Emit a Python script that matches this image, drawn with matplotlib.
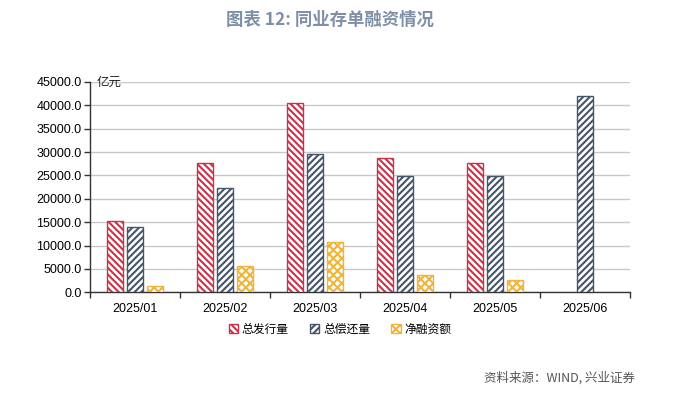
import matplotlib
matplotlib.use("Agg")
import matplotlib.pyplot as plt
import numpy as np

plt.rcParams['font.family'] = ['Noto Sans CJK SC', 'DejaVu Sans']
plt.rcParams['hatch.linewidth'] = 1.5

categories = ["2025/01", "2025/02", "2025/03", "2025/04", "2025/05", "2025/06"]
issuance = [15200, 27700, 40550, 28650, 27700, np.nan]
repayment = [13900, 22250, 29600, 24880, 24950, 42000]
net_financing = [1280, 5630, 10850, 3700, 2630, np.nan]
series_names = ["总发行量", "总偿还量", "净融资额"]
yticks = [0, 5000, 10000, 15000, 20000, 25000, 30000, 35000, 40000, 45000]

colors = ["#C8334A", "#44546A", "#F0B43C"]
hatches = ["\\" * 5, "/" * 5, "xxxx"]

fig = plt.figure(figsize=(6.81, 3.94), dpi=100)
ax = fig.add_axes([90/681, 1-292.3/394, 540/681, (292.3-82)/394])

x = np.arange(len(categories))
w = 16/90
step = 20/90
for i, (vals, c, h, name) in enumerate(zip([issuance, repayment, net_financing], colors, hatches, series_names)):
    ax.bar(x + (i-1)*step, vals, width=w, facecolor="white", edgecolor=c, hatch=h,
           linewidth=1.0, label=name, zorder=3)

ax.set_xlim(-0.5, len(categories)-0.5)
ax.set_ylim(0, 45000)
ax.set_yticks(yticks)
ax.set_yticklabels([f"{v:.1f}" for v in yticks], fontsize=9, family=['Liberation Sans'])
ax.set_xticks(x)
ax.set_xticklabels(categories, fontsize=9, family=['Liberation Sans'])
ax.set_xticks(np.arange(len(categories)+1)-0.5, minor=True)
ax.tick_params(axis='x', which='major', length=0, pad=8)
ax.tick_params(axis='x', which='minor', length=4, width=1, color="#333333", direction='out')
ax.tick_params(axis='y', length=4, width=1, color="#333333", direction='out', pad=2)
ax.grid(axis='y', color="#C8C8C8", linewidth=1, zorder=0)
for s in ['top', 'right']:
    ax.spines[s].set_visible(False)
for s in ['left', 'bottom']:
    ax.spines[s].set_color("#333333")
    ax.spines[s].set_linewidth(1)

ax.text(0.012, 1.0, "亿元", transform=ax.transAxes, fontsize=9, va='center', ha='left', color="#222222")

fig.text(330/681, 1-20/394, "图表 12: 同业存单融资情况", ha='center', va='center',
         fontsize=12.5, fontweight='bold', color="#7F8FA6")

leg = fig.legend(loc='center', bbox_to_anchor=(340/681, 1-329/394), ncol=3, frameon=False,
                 fontsize=8.5, handlelength=0.8, handleheight=0.8, handletextpad=0.3, columnspacing=1.8)

fig.text(484/681, 1-378/394, "资料来源：WIND, 兴业证券", ha='left', va='center',
         fontsize=9, color="#555555")

fig.savefig("out.png", dpi=100)
